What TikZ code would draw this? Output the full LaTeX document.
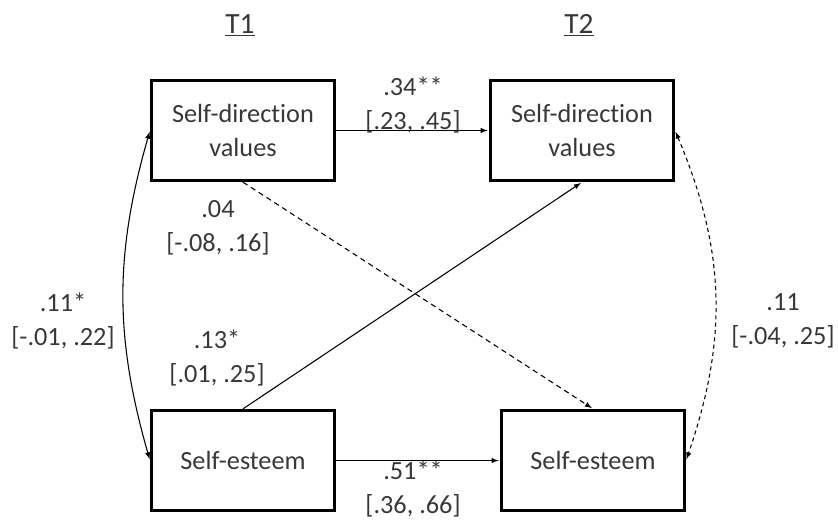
\documentclass[tikz,border=0pt]{standalone}
\usepackage{fontspec}
\setmainfont{Carlito}[Ligatures=NoCommon]
\usetikzlibrary{positioning}
\tikzset{
	>=latex,
}

\begin{document}
\begin{tikzpicture}[
		x=0.75pt, y=-0.75pt,
		every node/.style={font=\fontsize{19.7}{25.5}\selectfont, text=black!78},
		var/.style={
			draw=black, line width=2.5pt,
			minimum width=137pt, minimum height=75pt,
			align=center,
		},
		est/.style={align=center, inner sep=1pt},
		wave/.style={font=\fontsize{22}{26}\selectfont},
		link/.style={line width=0.8pt, shorten >=1pt},
	]
	\def\lab#1#2{#1\\\relax#2}
	\useasboundingbox (0,0) rectangle (838,522);
	% measurement occasions
	\node(t1)[wave] at (240,25) {\underline{T1}};
	\node(t2)[wave] at (579,25) {\underline{T2}};
	% variables
	\node(sd1)[var] at (243,130.5) {Self-direction\\values};
	\node(sd2)[var] at (582,130.5) {Self-direction\\values};
	\node(se1)[var] at (243,460.5) {Self-esteem};
	\node(se2)[var] at (593,460.5) {Self-esteem};
	% estimates
	\node(est34)[est] at (413,105) {\lab{.34**}{[.23, .45]}};
	\node(est04)[est] at (218,228) {\lab{.04}{[-.08, .16]}};
	\node(est13)[est] at (217,358) {\lab{.13*}{[.01, .25]}};
	\node(cor1)[est] at (63,321) {\lab{.11*}{[-.01, .22]}};
	\node(cor2)[est] at (783,321) {\lab{.11}{[-.04, .25]}};
	\node(est51)[est] at (413,489) {\lab{.51**}{[.36, .66]}};
	% paths
	\draw[link,->] (sd1.east) -- (sd2.west);
	\draw[link,->] (se1.east) -- (se2.west);
	\draw[link,->] (se1.north) -- (sd2.south);
	\draw[link,->,dash pattern=on 4pt off 3pt] (sd1.south) -- (se2.north);
	\draw[link,<->,shorten <=1pt] (sd1.west) to[bend right=16] (se1.west);
	\draw[link,<->,shorten <=1pt,dash pattern=on 3pt off 2.5pt] (sd2.east) to[bend left=21] (se2.east);
\end{tikzpicture}
\end{document}
